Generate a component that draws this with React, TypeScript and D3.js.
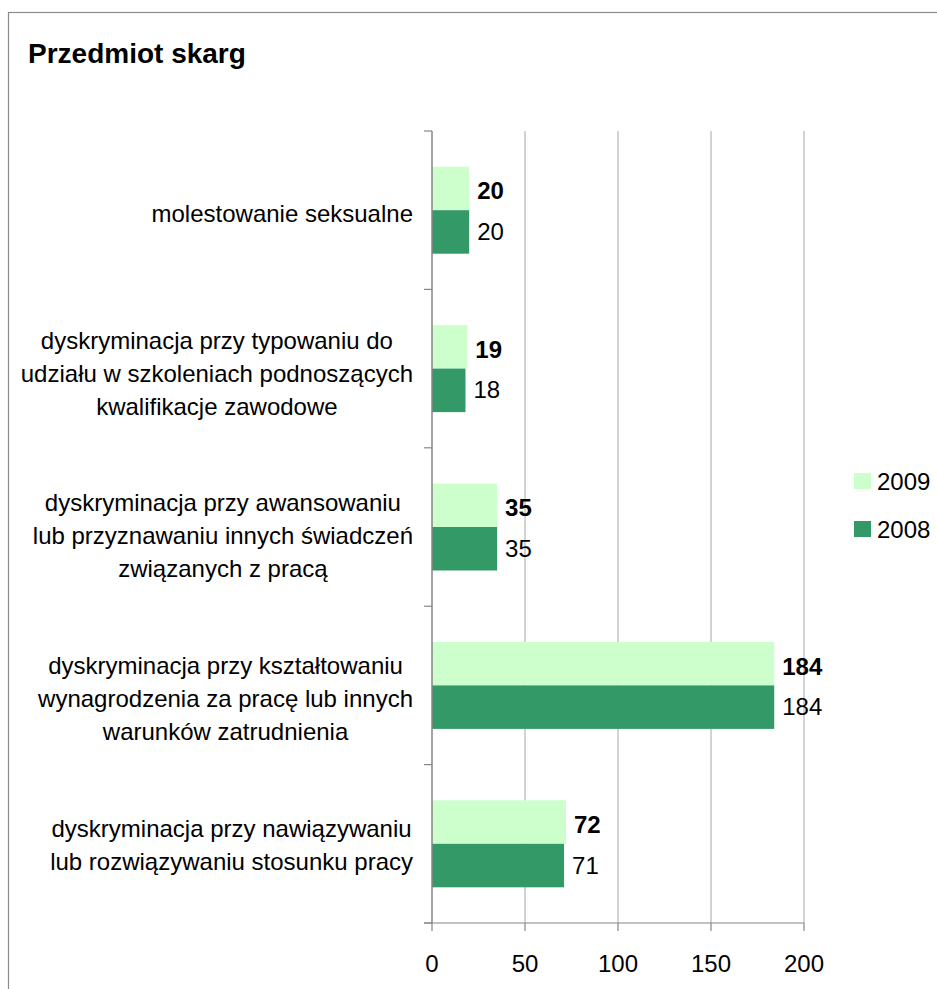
import React, { useEffect, useRef } from 'react';
import * as d3 from 'd3';

// ---- data ----
const categories: string[][] = [
  ['molestowanie seksualne'],
  ['dyskryminacja przy typowaniu do', 'udziału w szkoleniach podnoszących', 'kwalifikacje zawodowe'],
  ['dyskryminacja przy awansowaniu', 'lub przyznawaniu innych świadczeń', 'związanych z pracą'],
  ['dyskryminacja przy kształtowaniu', 'wynagrodzenia za pracę lub innych', 'warunków zatrudnienia'],
  ['dyskryminacja przy nawiązywaniu', 'lub rozwiązywaniu stosunku pracy'],
];
const values2009 = [20, 19, 35, 184, 72];
const values2008 = [20, 18, 35, 184, 71];
const seriesNames = ['2009', '2008'];
const xTicks = [0, 50, 100, 150, 200];
const title = 'Przedmiot skarg';

// ---- layout ----
const W = 937;
const H = 989;
const FONT = "'Liberation Sans', Arial, sans-serif";
const colors = ['#CCFFCC', '#339966'];
const labelDy = [12, 13, 17, 22, 9.5];
const valueDy = [11, 8];

export default function App() {
  const ref = useRef<SVGSVGElement | null>(null);

  useEffect(() => {
    const svg = d3.select(ref.current);
    svg.selectAll('*').remove();

    const x = d3.scaleLinear().domain([0, 200]).range([432, 804]);
    const y = d3
      .scaleBand<number>()
      .domain(categories.map((_, i) => i))
      .range([131, 923])
      .paddingInner(0)
      .paddingOuter(0);
    const bw = y.bandwidth();
    const barH = bw * 0.2746;

    svg.append('rect').attr('width', W).attr('height', H).attr('fill', '#fff');
    // border
    svg
      .append('rect')
      .attr('x', 8.5)
      .attr('y', 12.5)
      .attr('width', W + 20)
      .attr('height', H + 20)
      .attr('fill', 'none')
      .attr('stroke', '#8c8c8c')
      .attr('stroke-width', 1.2);

    svg
      .append('text')
      .attr('x', 28)
      .attr('y', 63)
      .attr('font-family', FONT)
      .attr('font-weight', 'bold')
      .attr('font-size', 28)
      .attr('fill', '#000')
      .text(title);

    // gridlines
    svg
      .append('g')
      .selectAll('line')
      .data(xTicks.filter((t) => t > 0))
      .join('line')
      .attr('x1', (d) => x(d))
      .attr('x2', (d) => x(d))
      .attr('y1', 131)
      .attr('y2', 923)
      .attr('stroke', '#a6a6a6')
      .attr('stroke-width', 1);

    // bars
    const bars = svg.append('g');
    categories.forEach((_, i) => {
      const c = (y(i) as number) + bw / 2;
      const vals = [values2009[i], values2008[i]];
      vals.forEach((v, s) => {
        const top = s === 0 ? c - barH : c;
        bars
          .append('rect')
          .attr('x', x(0))
          .attr('y', top)
          .attr('width', x(v) - x(0))
          .attr('height', barH)
          .attr('fill', colors[s]);
        bars
          .append('text')
          .attr('x', x(v) + 8)
          .attr('y', top + barH / 2 + valueDy[s])
          .attr('font-family', FONT)
          .attr('font-size', 24)
          .attr('font-weight', s === 0 ? 'bold' : 'normal')
          .attr('fill', '#000')
          .text(String(v));
      });
    });

    // axes
    const axisColor = '#868686';
    svg
      .append('line')
      .attr('x1', x(0))
      .attr('x2', x(0))
      .attr('y1', 131)
      .attr('y2', 923)
      .attr('stroke', axisColor)
      .attr('stroke-width', 1.5);
    svg
      .append('line')
      .attr('x1', 424)
      .attr('x2', x(200))
      .attr('y1', 923)
      .attr('y2', 923)
      .attr('stroke', axisColor)
      .attr('stroke-width', 1.2);
    // y ticks at band boundaries
    const bounds = categories.map((_, i) => y(i) as number).concat([923]);
    svg
      .append('g')
      .selectAll('line')
      .data(bounds)
      .join('line')
      .attr('x1', 424)
      .attr('x2', x(0))
      .attr('y1', (d) => d)
      .attr('y2', (d) => d)
      .attr('stroke', axisColor)
      .attr('stroke-width', 1.2);
    // x ticks
    svg
      .append('g')
      .selectAll('line')
      .data(xTicks)
      .join('line')
      .attr('x1', (d) => x(d))
      .attr('x2', (d) => x(d))
      .attr('y1', 923)
      .attr('y2', 931)
      .attr('stroke', axisColor)
      .attr('stroke-width', 1.2);
    svg
      .append('g')
      .selectAll('text')
      .data(xTicks)
      .join('text')
      .attr('x', (d) => x(d))
      .attr('y', 972)
      .attr('text-anchor', 'middle')
      .attr('font-family', FONT)
      .attr('font-size', 24)
      .attr('fill', '#000')
      .text((d) => String(d));

    // category labels (block right-aligned, lines centred)
    const labelRight = 413;
    const lineH = 33;
    categories.forEach((lines, i) => {
      const c = (y(i) as number) + bw / 2;
      const g = svg.append('g');
      const texts = lines.map((ln, k) =>
        g
          .append('text')
          .attr('y', c + labelDy[i] + (k - (lines.length - 1) / 2) * lineH)
          .attr('text-anchor', 'middle')
          .attr('font-family', FONT)
          .attr('font-size', 24)
          .attr('fill', '#000')
          .text(ln)
      );
      const maxW = d3.max(texts, (t) => (t.node() as SVGTextElement).getComputedTextLength()) || 0;
      texts.forEach((t) => t.attr('x', labelRight - maxW / 2));
    });

    // legend
    const legY = [473, 521];
    seriesNames.forEach((name, s) => {
      svg
        .append('rect')
        .attr('x', 854)
        .attr('y', legY[s])
        .attr('width', 17)
        .attr('height', 16)
        .attr('fill', colors[s]);
      svg
        .append('text')
        .attr('x', 877)
        .attr('y', legY[s] + 17)
        .attr('font-family', FONT)
        .attr('font-size', 24)
        .attr('fill', '#000')
        .text(name);
    });
  }, []);

  return (
    <svg
      ref={ref}
      width={W}
      height={H}
      style={{ position: 'absolute', left: 0, top: 0, display: 'block' }}
    />
  );
}
